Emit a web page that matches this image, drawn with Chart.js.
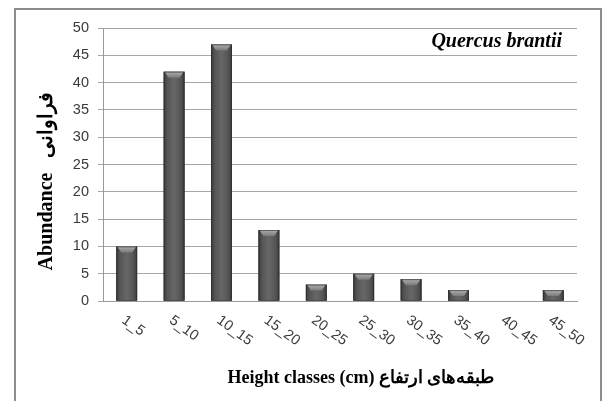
<!DOCTYPE html>
<html>
<head>
<meta charset="utf-8">
<script src="https://cdn.jsdelivr.net/npm/chart.js@4.4.1/dist/chart.umd.min.js"></script>
<style>
html,body{margin:0;padding:0;background:#fff;}
#wrap{width:603px;height:401px;position:relative;}
</style>
</head>
<body>
<div id="wrap"><canvas id="c" width="603" height="401"></canvas></div>
<script>
const categories = ["1_5","5_10","10_15","15_20","20_25","25_30","30_35","35_40","40_45","45_50"];
const abundance = [10, 42, 47, 13, 3, 5, 4, 2, 0, 2];
const yTicks = [0,5,10,15,20,25,30,35,40,45,50];
const chartTitle = "Quercus brantii";
const xTitle = "Height classes (cm) طبقه‌های ارتفاع";
const yTitle = "Abundance   فراوانی";

const decor = {
  id: 'decor',
  beforeDraw(chart) {
    const ctx = chart.ctx;
    ctx.save();
    ctx.fillStyle = '#fff';
    ctx.fillRect(0, 0, chart.width, chart.height);
    ctx.strokeStyle = '#8c8c8c';
    ctx.lineWidth = 2;
    ctx.strokeRect(15, 9, 586, 400);
    ctx.restore();
  },
  afterDatasetsDraw(chart) {
    const ctx = chart.ctx;
    const meta = chart.getDatasetMeta(0);
    ctx.save();
    meta.data.forEach((bar) => {
      const p = bar.getProps(['x','y','base','width'], true);
      const h = p.base - p.y;
      if (h <= 0) return;
      const l = p.x - p.width / 2, r = p.x + p.width / 2;
      const g = ctx.createLinearGradient(l, 0, r, 0);
      g.addColorStop(0, '#3a3a3a');
      g.addColorStop(0.18, '#555');
      g.addColorStop(0.5, '#676767');
      g.addColorStop(0.82, '#555');
      g.addColorStop(1, '#3a3a3a');
      ctx.fillStyle = g;
      ctx.fillRect(l, p.y, p.width, h);
      const bh = Math.min(6, h);
      const g2 = ctx.createLinearGradient(0, p.y, 0, p.y + bh);
      g2.addColorStop(0, '#b0b0b0');
      g2.addColorStop(1, '#7a7a7a');
      ctx.fillStyle = g2;
      ctx.beginPath();
      ctx.moveTo(l + 1, p.y);
      ctx.lineTo(r - 1, p.y);
      ctx.lineTo(r - 5, p.y + bh);
      ctx.lineTo(l + 5, p.y + bh);
      ctx.closePath();
      ctx.fill();
      ctx.strokeStyle = 'rgba(40,40,40,0.6)';
      ctx.lineWidth = 1;
      ctx.strokeRect(l + 0.5, p.y + 0.5, p.width - 1, h - 0.5);
    });
    ctx.restore();
  },
  afterDraw(chart) {
    const ctx = chart.ctx;
    const xs = chart.scales.x;
    const area = chart.chartArea;
    ctx.save();
    ctx.fillStyle = '#3a3a3a';
    ctx.font = '14.5px "Liberation Sans", Arial, sans-serif';
    ctx.textAlign = 'left';
    ctx.textBaseline = 'top';
    categories.forEach((lab, i) => {
      const x = xs.getPixelForTick(i);
      ctx.save();
      ctx.translate(x + 1, area.bottom + 12);
      ctx.rotate(36 * Math.PI / 180);
      ctx.fillText(lab, 0, 0);
      ctx.restore();
    });
    ctx.fillStyle = '#000';
    ctx.font = 'bold 18px "Liberation Serif", "Times New Roman", serif';
    ctx.textAlign = 'center';
    ctx.textBaseline = 'middle';
    ctx.fillText(xTitle, 361, 378);
    ctx.save();
    ctx.translate(52, 181);
    ctx.rotate(-Math.PI / 2);
    ctx.textBaseline = 'alphabetic';
    ctx.font = 'bold 20px "Liberation Serif", "Times New Roman", serif';
    ctx.fillText(yTitle, 0, 0);
    ctx.restore();
    ctx.font = 'italic bold 20px "Liberation Serif", "Times New Roman", serif';
    ctx.textAlign = 'right';
    ctx.textBaseline = 'alphabetic';
    ctx.fillText(chartTitle, 562, 47);
    ctx.restore();
  }
};

new Chart(document.getElementById('c'), {
  type: 'bar',
  data: {
    labels: categories,
    datasets: [{
      data: abundance,
      backgroundColor: '#555',
      borderWidth: 0,
      barPercentage: 0.44,
      categoryPercentage: 1
    }]
  },
  options: {
    responsive: false,
    animation: false,
    devicePixelRatio: 1,
    layout: { padding: { left: 0, right: 26, top: 28, bottom: 0 } },
    plugins: { legend: { display: false }, tooltip: { enabled: false } },
    scales: {
      x: {
        grid: { display: false, drawTicks: false },
        border: { color: '#9a9a9a', width: 1 },
        ticks: { display: false },
        afterFit(s) { s.height = 100; }
      },
      y: {
        min: 0, max: 50,
        afterBuildTicks(s) { s.ticks = yTicks.map(v => ({ value: v })); },
        grid: { color: '#a6a6a6', lineWidth: 1, tickLength: 5 },
        border: { color: '#9a9a9a', width: 1 },
        ticks: {
          padding: 9,
          color: '#3a3a3a',
          font: { family: '"Liberation Sans", Arial, sans-serif', size: 14.5 }
        },
        afterFit(s) { s.width = 103; }
      }
    }
  },
  plugins: [decor]
});
</script>
</body>
</html>
